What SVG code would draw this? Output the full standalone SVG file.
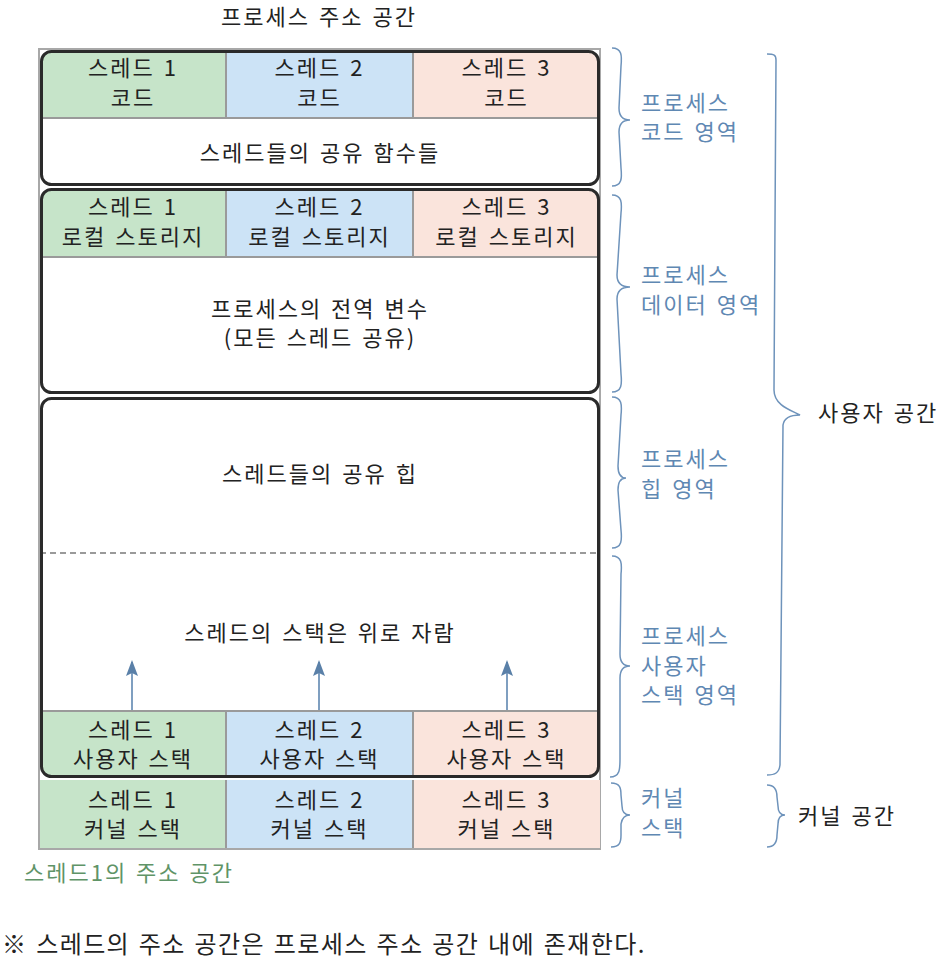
<svg xmlns="http://www.w3.org/2000/svg" width="942" height="961" viewBox="0 0 942 961">
<style>
text{font-family:"Noto Sans CJK KR","Noto Sans",sans-serif;font-size:22px;letter-spacing:2px;word-spacing:2px;fill:#222}
.c{text-anchor:middle}
.b{fill:#5f88b3}
.g{fill:#5f9467}
.green{fill:#c6e4c9}
.blue{fill:#cce3f6}
.pink{fill:#fae4dc}
.div{stroke:#9a9a9a;stroke-width:2;fill:none}
.box{fill:none;stroke:#2a2a2a;stroke-width:3}
.brace{fill:none;stroke:#6e93bb;stroke-width:1.5}
.arrow{stroke:#7f9fc0;stroke-width:2;fill:none}
</style>
<defs>
<marker id="ah" markerWidth="16" markerHeight="12" refX="14" refY="6" orient="auto" markerUnits="userSpaceOnUse" viewBox="0 0 16 12">
<path d="M0,0 L16,6 L0,12 L3,6 Z" fill="#5a80a8"/>
</marker>
<clipPath id="cp1"><rect x="41.5" y="51.5" width="557" height="133" rx="10"/></clipPath>
<clipPath id="cp2"><rect x="41.5" y="189.5" width="557" height="203" rx="10"/></clipPath>
<clipPath id="cp3"><rect x="41.5" y="398.5" width="557" height="378" rx="10"/></clipPath>
</defs>
<rect x="0" y="0" width="942" height="961" fill="#fff"/>

<text id="title" class="c" x="319" y="25">프로세스 주소 공간</text>

<rect id="outer" x="39" y="49" width="561" height="800" fill="#fff" stroke="#a8a8a8" stroke-width="2"/>

<g id="code-region">
<g clip-path="url(#cp1)">
<rect class="green" x="40" y="50" width="186" height="68"/>
<rect class="blue" x="226" y="50" width="187" height="68"/>
<rect class="pink" x="413" y="50" width="187" height="68"/>
<path class="div" d="M40,118 H600 M226,50 V118 M413,50 V118"/>
</g>
<rect class="box" x="41.5" y="51.5" width="557" height="133" rx="10"/>
<text class="c" x="133" y="76">스레드 1</text><text class="c" x="133" y="106">코드</text>
<text class="c" x="319.5" y="76">스레드 2</text><text class="c" x="319.5" y="106">코드</text>
<text class="c" x="506.5" y="76">스레드 3</text><text class="c" x="506.5" y="106">코드</text>
<text class="c" x="320" y="161">스레드들의 공유 함수들</text>
</g>

<g id="data-region">
<g clip-path="url(#cp2)">
<rect class="green" x="40" y="188" width="186" height="69"/>
<rect class="blue" x="226" y="188" width="187" height="69"/>
<rect class="pink" x="413" y="188" width="187" height="69"/>
<path class="div" d="M40,257 H600 M226,188 V257 M413,188 V257"/>
</g>
<rect class="box" x="41.5" y="189.5" width="557" height="203" rx="10"/>
<text class="c" x="133" y="215">스레드 1</text><text class="c" x="133" y="245">로컬 스토리지</text>
<text class="c" x="319.5" y="215">스레드 2</text><text class="c" x="319.5" y="245">로컬 스토리지</text>
<text class="c" x="506.5" y="215">스레드 3</text><text class="c" x="506.5" y="245">로컬 스토리지</text>
<text class="c" x="320" y="317">프로세스의 전역 변수</text>
<text class="c" x="320" y="346">(모든 스레드 공유)</text>
</g>

<g id="heap-stack-region">
<g clip-path="url(#cp3)">
<rect class="green" x="40" y="711" width="186" height="68"/>
<rect class="blue" x="226" y="711" width="187" height="68"/>
<rect class="pink" x="413" y="711" width="187" height="68"/>
<path class="div" d="M40,711 H600 M226,711 V779 M413,711 V779"/>
<path d="M40,553 H600" stroke="#9a9a9a" stroke-width="2" stroke-dasharray="6,4"/>
</g>
<rect class="box" x="41.5" y="398.5" width="557" height="378" rx="10"/>
<text class="c" x="320" y="482">스레드들의 공유 힙</text>
<text class="c" x="320" y="641">스레드의 스택은 위로 자람</text>
<text class="c" x="133" y="738">스레드 1</text><text class="c" x="133" y="767">사용자 스택</text>
<text class="c" x="319.5" y="738">스레드 2</text><text class="c" x="319.5" y="767">사용자 스택</text>
<text class="c" x="506.5" y="738">스레드 3</text><text class="c" x="506.5" y="767">사용자 스택</text>
</g>

<g id="kernel-stacks">
<rect class="green" x="40" y="780" width="186" height="68"/>
<rect class="blue" x="226" y="780" width="187" height="68"/>
<rect class="pink" x="413" y="780" width="187" height="68"/>
<path class="div" d="M226,780 V848 M413,780 V848"/>
<text class="c" x="133" y="808">스레드 1</text><text class="c" x="133" y="837">커널 스택</text>
<text class="c" x="319.5" y="808">스레드 2</text><text class="c" x="319.5" y="837">커널 스택</text>
<text class="c" x="506.5" y="808">스레드 3</text><text class="c" x="506.5" y="837">커널 스택</text>
</g>

<g id="connectors">
<path class="arrow" d="M132,710 V662" marker-end="url(#ah)"/>
<path class="arrow" d="M319,710 V662" marker-end="url(#ah)"/>
<path class="arrow" d="M507,710 V662" marker-end="url(#ah)"/>
</g>

<g id="braces">
<path class="brace" d="M612,48 C622,48 622,56 621,66 L619,108 C619,116 622,120 630,120 C622,120 619,124 619,132 L621,168 C622,178 622,186 612,186"/>
<path class="brace" d="M612,195 C622,195 622,203 621,213 L617,275 C617,283 622,287 630,287 C622,287 617,291 617,299 L621,374 C622,384 622,392 612,392"/>
<path class="brace" d="M612,397 C622,397 622,405 621,415 L618,466 C618,474 621,478 626,478 C621,478 618,482 618,490 L621,530 C622,540 622,548 612,548"/>
<path class="brace" d="M612,556 C622,556 622,564 621,574 L620,654 C620,662 623,666 630,666 C623,666 620,670 620,678 L620,759 C620,769 620,777 610,777"/>
<path class="brace" d="M611,783 C620,783 621,788 621,795 L622,806 C622,812 625,815 630,815 C625,815 622,818 621,824 L621,835 C621,842 620,847 611,847"/>
<path class="brace" d="M767,54 C774,54 776,55 776,60 L774,390 C774,405 790,410 800,415 C790,415 784,418 783,425 L780,765 C779,773 775,775 767,775"/>
<path class="brace" d="M767,785 C775,785 777,790 777,797 L778,806 C778,812 780,815 785,815 C780,815 778,818 778,824 L777,835 C777,842 775,847 767,847"/>
</g>

<g id="labels">
<text class="b" x="641" y="111">프로세스</text>
<text class="b" x="641" y="140">코드 영역</text>
<text class="b" x="641" y="283">프로세스</text>
<text class="b" x="641" y="313">데이터 영역</text>
<text class="b" x="641" y="467">프로세스</text>
<text class="b" x="641" y="497">힙 영역</text>
<text class="b" x="641" y="644">프로세스</text>
<text class="b" x="641" y="674">사용자</text>
<text class="b" x="641" y="703">스택 영역</text>
<text class="b" x="641" y="806">커널</text>
<text class="b" x="641" y="836">스택</text>
<text x="818" y="421">사용자 공간</text>
<text x="798" y="824">커널 공간</text>
<text class="g" x="24" y="881">스레드1의 주소 공간</text>
<text x="2" y="953" style="font-size:24px;letter-spacing:1.4px">※ 스레드의 주소 공간은 프로세스 주소 공간 내에 존재한다.</text>
</g>
</svg>
